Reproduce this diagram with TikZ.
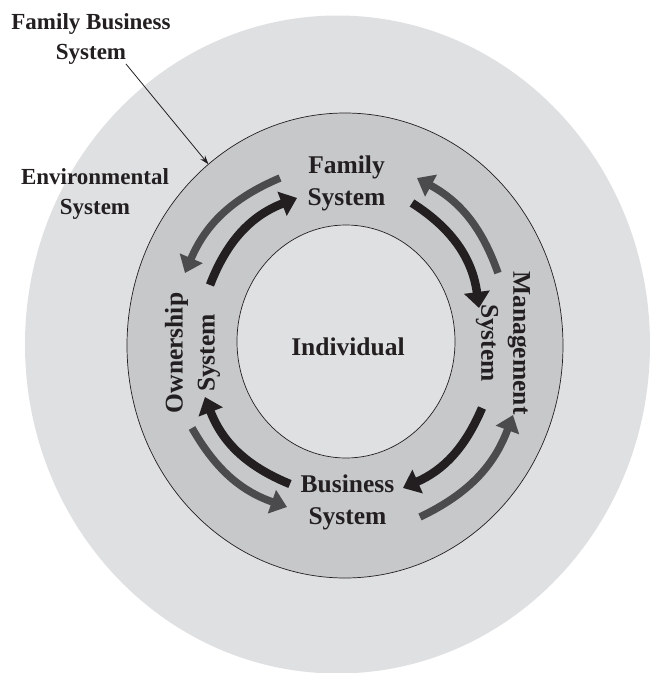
\documentclass[tikz,border=0pt]{standalone}
\usepackage{fontspec}
\setmainfont{Liberation Serif}
\usetikzlibrary{arrows.meta,shapes.geometric}
\definecolor{envgray}{HTML}{DFE0E2}
\definecolor{ringgray}{HTML}{C7C8CA}
\definecolor{inkblack}{HTML}{231F20}
\definecolor{arrgray}{HTML}{4B4B4D}
\tikzset{
  lbl/.style={font=\bfseries\fontsize{25.5}{32}\selectfont, text=inkblack, align=center, inner sep=0pt},
  outlbl/.style={font=\bfseries\fontsize{23}{30}\selectfont, text=inkblack, align=center, inner sep=0pt},
  blkarr/.style={draw=inkblack, line width=8.5pt, -{Triangle[length=16pt,width=25pt]}},
  gryarr/.style={draw=arrgray, line width=7.5pt, -{Triangle[length=16pt,width=24pt]}},
  oval/.style={ellipse, inner sep=0pt, outer sep=0pt},
}
\begin{document}
\begin{tikzpicture}[x=1pt,y=1pt]
\useasboundingbox (-346,-330) rectangle (305,343);
% circles
\node[oval, fill=envgray, minimum width=625pt, minimum height=658pt] (env) at (-8.5,-1.5) {};
\node[oval, fill=ringgray, draw=inkblack, line width=0.7pt, minimum width=436pt, minimum height=465pt] (ring) at (-1,-2.5) {};
\node[oval, fill=envgray, draw=inkblack, line width=0.7pt, minimum width=218pt, minimum height=233pt] (core) at (0,1.5) {};
% arrow end points
\coordinate (btlA) at (-136,58);  \coordinate (btlB) at (-49,145);
\coordinate (gtlA) at (-66,165);  \coordinate (gtlB) at (-161,70);
\coordinate (btrA) at (66,140);   \coordinate (btrB) at (133,35);
\coordinate (gtrA) at (152,70);   \coordinate (gtrB) at (71,165);
\coordinate (bblA) at (-56,-141); \coordinate (bblB) at (-141,-54);
\coordinate (gblA) at (-154,-85); \coordinate (gblB) at (-59,-164);
\coordinate (bbrA) at (136,-65);  \coordinate (bbrB) at (57,-145);
\coordinate (gbrA) at (74,-174);  \coordinate (gbrB) at (167,-72);
% arrows
\draw[blkarr] (btlA) to[bend left=24] (btlB);
\draw[gryarr] (gtlA) to[bend right=22] (gtlB);
\draw[blkarr] (btrA) to[bend left=25] (btrB);
\draw[gryarr] (gtrA) to[bend right=21] (gtrB);
\draw[blkarr] (bblA) to[bend left=23.5] (bblB);
\draw[gryarr] (gblA) to[bend right=20.5] (gblB);
\draw[blkarr] (bbrA) to[bend left=21.5] (bbrB);
\draw[gryarr] (gbrA) to[bend right=22] (gbrB);
% labels
\node[lbl] (fam) at (0.5,160) {Family\\System};
\node[lbl] (ind) at (2,-4.3) {Individual};
\node[lbl] (bus) at (1.5,-159.5) {Business\\System};
\node[lbl, rotate=90] (own) at (-153.5,-10) {Ownership\\System};
\node[lbl, rotate=-90] (mgmt) at (157,0) {Management\\System};
\node[outlbl] (fbs) at (-255,304) {Family Business\\System};
\node[outlbl] (envl) at (-251,149) {Environmental\\System};
% pointer
\coordinate (ptr) at (-220,279);
\draw[inkblack, line width=0.8pt, -{Stealth[length=9pt,width=6pt]}] (ptr) -- (ring.127.5);
\end{tikzpicture}
\end{document}
